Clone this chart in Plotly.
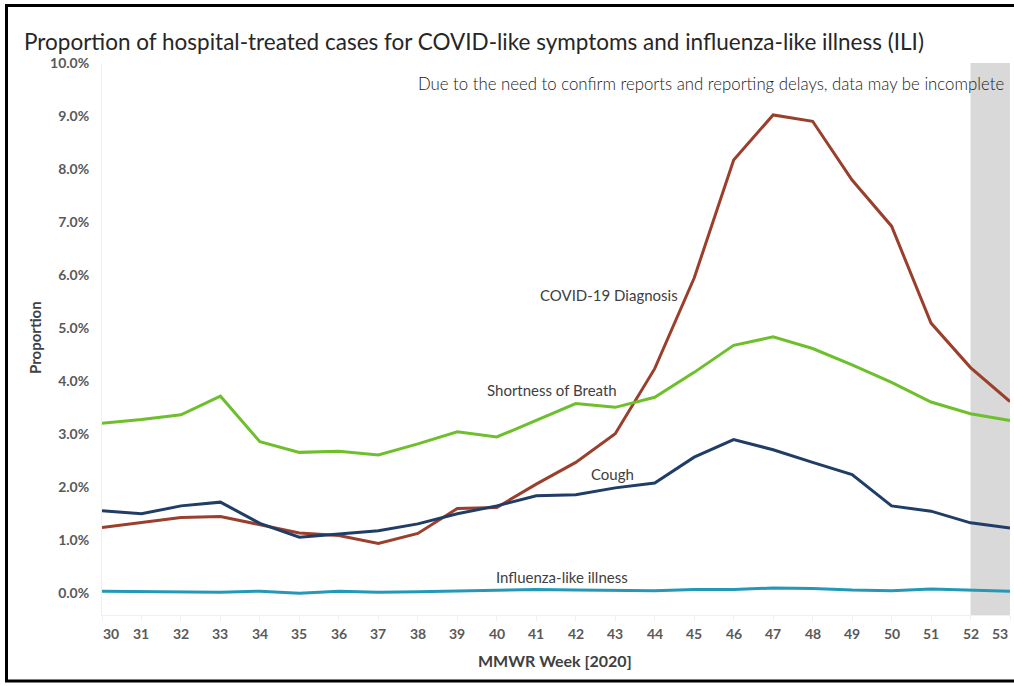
import plotly.graph_objects as go

# MMWR weeks of 2020
weeks = list(range(30, 54))

# Weekly proportions (%) of hospital-treated visits
covid_dx = [1.23, 1.33, 1.42, 1.44, 1.29, 1.13, 1.08, 0.93, 1.12, 1.59, 1.61, 2.05,
            2.46, 3.00, 4.23, 5.94, 8.17, 9.02, 8.90, 7.79, 6.92, 5.09, 4.25, 3.61]
short_breath = [3.20, 3.27, 3.36, 3.71, 2.85, 2.65, 2.67, 2.60, 2.81, 3.04, 2.94, 3.25,
                3.57, 3.50, 3.69, 4.16, 4.67, 4.83, 4.61, 4.30, 3.97, 3.60, 3.38, 3.25]
cough = [1.55, 1.49, 1.64, 1.71, 1.31, 1.05, 1.11, 1.17, 1.30, 1.49, 1.64, 1.83,
         1.85, 1.98, 2.07, 2.56, 2.89, 2.70, 2.46, 2.23, 1.64, 1.54, 1.32, 1.22]
ili = [0.03, 0.02, 0.02, 0.01, 0.03, -0.01, 0.03, 0.01, 0.02, 0.03, 0.05, 0.06,
       0.05, 0.05, 0.04, 0.06, 0.06, 0.09, 0.08, 0.05, 0.04, 0.07, 0.05, 0.03]

# Weeks whose data may still be incomplete
incomplete_weeks = [52, 53]

series = [
    ("COVID-19 Diagnosis", covid_dx, "#9A3F2C"),
    ("Shortness of Breath", short_breath, "#6EBF2C"),
    ("Cough", cough, "#1F3D67"),
    ("Influenza-like illness", ili, "#2499B7"),
]

# Inline label placement: (week, value %) anchor for each series name
label_pos = {
    "COVID-19 Diagnosis": (42.84, 5.63),
    "Shortness of Breath": (41.40, 3.82),
    "Cough": (42.92, 2.25),
    "Influenza-like illness": (41.65, 0.29),
}

CAL = "Lato"
W, H = 1014, 686
L, R, T, B = 102, 4, 63, 71
pw, ph = W - L - R, H - T - B


def px(x):
    return (x - L) / pw


def py(y):
    return (H - B - y) / ph


fig = go.Figure()

for name, vals, color in series:
    fig.add_trace(go.Scatter(
        x=weeks, y=[v / 100 for v in vals], mode="lines", name=name,
        line=dict(color=color, width=3), showlegend=False,
    ))
    lx, ly = label_pos[name]
    fig.add_annotation(x=lx, y=ly / 100, xref="x", yref="y", text=name,
                       showarrow=False, xanchor="center", yanchor="middle",
                       font=dict(family=CAL, size=15, color="#404040"))

# shaded band for incomplete weeks
fig.add_shape(type="rect", xref="x", yref="paper",
              x0=incomplete_weeks[0], x1=incomplete_weeks[-1], y0=0, y1=1,
              fillcolor="#D9D9D9", line=dict(width=0), layer="below")

# x tick labels, ends pulled inward
for i, w in enumerate(weeks):
    shift = 9 if i == 0 else (-10 if i == len(weeks) - 1 else 0)
    fig.add_annotation(x=w, y=0, xref="x", yref="paper", text=str(w),
                       showarrow=False, xanchor="center", yanchor="middle",
                       yshift=-18, xshift=shift,
                       font=dict(family=CAL, size=14, color="#595959", weight="bold"))

fig.update_xaxes(range=[30, 53], showticklabels=False, showgrid=False, zeroline=False,
                 showline=True, linecolor="#F0F0F0", linewidth=1,
                 ticks="outside", tickvals=weeks, ticklen=5, tickcolor="#F0F0F0")
fig.update_yaxes(range=[-0.0042, 0.10], tickvals=[i / 100 for i in range(11)],
                 tickformat=".1%", showgrid=False, zeroline=False,
                 showline=True, linecolor="#F0F0F0", linewidth=1,
                 ticks="", ticklabelstandoff=9,
                 tickfont=dict(family=CAL, size=14, color="#595959", weight="bold"))

fig.add_annotation(x=px(22), y=py(42), xref="paper", yref="paper",
                   text="Proportion of hospital-treated cases for COVID-like symptoms and influenza-like illness (ILI)",
                   showarrow=False, xanchor="left", yanchor="middle",
                   font=dict(family=CAL, size=22.5, color="#262626"))
fig.add_annotation(x=px(1006), y=py(84), xref="paper", yref="paper",
                   text="Due to the need to confirm reports and reporting delays, data may be incomplete",
                   showarrow=False, xanchor="right", yanchor="middle",
                   font=dict(family=CAL, size=16.8, color="#1A1A1A", weight=300))
fig.add_annotation(x=px(35), y=py(338), xref="paper", yref="paper", text="Proportion",
                   textangle=-90, showarrow=False, xanchor="center", yanchor="middle",
                   font=dict(family=CAL, size=15, color="#404040", weight="bold"))
fig.add_annotation(x=px(555), y=py(660), xref="paper", yref="paper", text="MMWR Week [2020]",
                   showarrow=False, xanchor="center", yanchor="middle",
                   font=dict(family=CAL, size=16, color="#404040", weight="bold"))

# outer frame (open on the right)
fig.add_shape(type="rect", xref="paper", yref="paper",
              x0=px(6.5), x1=px(1080), y0=py(681), y1=py(5.5),
              line=dict(color="#000000", width=3), fillcolor="rgba(0,0,0,0)")

fig.update_layout(width=W, height=H, margin=dict(l=L, r=R, t=T, b=B),
                  paper_bgcolor="white", plot_bgcolor="white")

fig.write_html("out.html")
